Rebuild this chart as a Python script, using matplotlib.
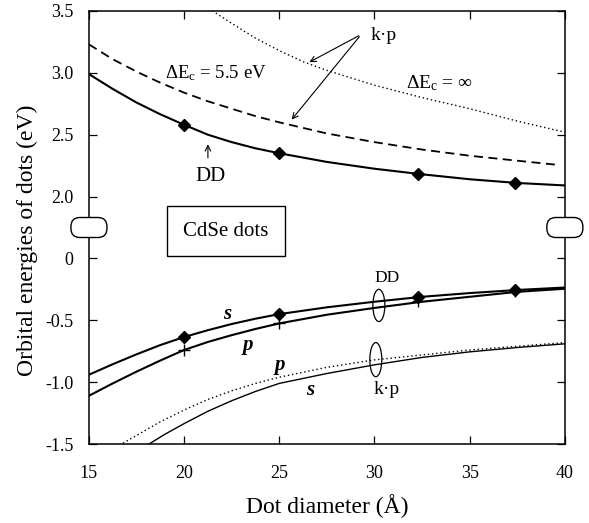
import numpy as np
import matplotlib
matplotlib.use("Agg")
from matplotlib import pyplot as plt
from matplotlib import patches, transforms

plt.rcParams['font.family'] = 'Liberation Serif'
plt.rcParams['mathtext.fontset'] = 'custom'
plt.rcParams['mathtext.rm'] = 'Liberation Serif'
plt.rcParams['mathtext.it'] = 'Liberation Serif:italic'

# conduction band levels (eV)
d_cb = [15, 16.25, 17.5, 18.75, 20, 21.25, 22.5, 23.75, 25, 27.5, 30, 32.5, 35, 37.5, 40]
cb_dd = [2.99, 2.87, 2.76, 2.665, 2.58, 2.50, 2.44, 2.39, 2.35, 2.28, 2.225, 2.18, 2.14, 2.11, 2.09]
d_kp55 = [15, 16.25, 17.5, 18.75, 20, 21.25, 22.5, 23.75, 25, 27.5, 30, 32.5, 35, 37.5, 39.7]
cb_kp55 = [3.23, 3.11, 3.01, 2.92, 2.84, 2.77, 2.71, 2.65, 2.60, 2.51, 2.44, 2.38, 2.33, 2.29, 2.255]
d_kpinf = [21.3, 22.5, 23.75, 25, 26.25, 27.5, 30, 32.5, 35, 37.5, 40]
cb_kpinf = [3.52, 3.40, 3.28, 3.18, 3.09, 3.02, 2.90, 2.80, 2.71, 2.61, 2.52]

# valence band levels (eV)
d_vb = [15, 16.25, 17.5, 18.75, 20, 21.25, 22.5, 23.75, 25, 27.5, 30, 32.5, 35, 37.5, 40]
vb_dd_s = [-0.94, -0.855, -0.775, -0.70, -0.635, -0.58, -0.53, -0.487, -0.45,
           -0.395, -0.35, -0.31, -0.28, -0.255, -0.235]
vb_dd_p = [-1.11, -1.01, -0.915, -0.825, -0.74, -0.675, -0.62, -0.57, -0.525,
           -0.455, -0.40, -0.35, -0.31, -0.27, -0.245]
d_kp_p = [16.6, 17.5, 18.75, 20, 21.25, 22.5, 23.75, 25, 27.5, 30, 32.5, 35, 37.5, 40]
vb_kp_p = [-1.51, -1.43, -1.32, -1.225, -1.14, -1.07, -1.01, -0.96, -0.88, -0.82,
           -0.78, -0.74, -0.71, -0.68]
d_kp_s = [18, 19, 20, 21.25, 22.5, 23.75, 25, 27.5, 30, 32.5, 35, 37.5, 40]
vb_kp_s = [-1.515, -1.42, -1.335, -1.235, -1.15, -1.075, -1.01, -0.93, -0.86,
           -0.80, -0.755, -0.72, -0.69]

# DD calculated points
d_marks = [20, 25, 32.3, 37.4]
cb_marks = [2.58, 2.35, 2.18, 2.11]
vb_s_marks = [-0.635, -0.45, -0.315, -0.257]
vb_p_marks = [-0.74, -0.525, -0.345, -0.265]

ytick_vals = [-1.5, -1.0, -0.5, 0, 2.0, 2.5, 3.0, 3.5]
ytick_labels = ['-1.5', '-1.0', '-0.5', '0', '2.0', '2.5', '3.0', '3.5']
xtick_vals = [15, 20, 25, 30, 35, 40]

# upper block of the broken axis is shifted down by this much
SHIFT = 1.5


def up(v):
    return np.asarray(v) - SHIFT


fig = plt.figure(figsize=(5.89, 5.23), dpi=100)
ax = fig.add_axes([0.151, 0.151, 0.808, 0.828])

ax.plot(d_cb, up(cb_dd), color="black", lw=1.5)
ax.plot(d_marks, up(cb_marks), "D", color="black", ms=6)
ax.plot(d_kp55, up(cb_kp55), color="black", lw=1.3, ls=(0, (5, 3)))
ax.plot(d_kpinf, up(cb_kpinf), color="black", lw=1.0, ls=(0, (1, 2)))

ax.plot(d_vb, vb_dd_s, color="black", lw=1.5)
ax.plot(d_vb, vb_dd_p, color="black", lw=1.5)
ax.plot(d_marks, vb_s_marks, "D", color="black", ms=6)
ax.plot(d_marks, vb_p_marks, "+", color="black", ms=9, mew=1.0)
ax.plot(d_kp_p, vb_kp_p, color="black", lw=1.0, ls=(0, (1, 2)))
ax.plot(d_kp_s, vb_kp_s, color="black", lw=1.0)

ax.set_xlim(15, 40)
ax.set_ylim(-1.5, 2.0)
ax.set_xticks(xtick_vals)
ax.set_yticks([v if v <= 0 else v - SHIFT for v in ytick_vals])
ax.set_yticklabels(ytick_labels)
ax.tick_params(direction="in", top=True, right=True, length=6, width=0.9,
               labelsize=13)
ax.tick_params(axis="x", pad=15)
ax.tick_params(axis="y", pad=11)
for s in ax.spines.values():
    s.set_linewidth(1.1)

ax.set_xlabel("Dot diameter (Å)", fontsize=17, labelpad=9)
ax.set_ylabel("Orbital energies of dots (eV)", fontsize=17)
ax.yaxis.set_label_coords(-0.108, 0.47)

# axis break symbols on both spines
mix = transforms.blended_transform_factory(ax.transAxes, ax.transData)
for xa in [0, 1]:
    off = transforms.ScaledTranslation(xa, 0.25, mix)
    box = patches.FancyBboxPatch((-0.18, -0.1), 0.36, 0.2,
                                 boxstyle="round,pad=0,rounding_size=0.09",
                                 fc="white", ec="black", lw=1.0,
                                 transform=fig.dpi_scale_trans + off,
                                 clip_on=False, zorder=5)
    ax.add_patch(box)

# labels and arrows (positions in plotted coordinates)
ax.text(21.67, 1.495, r"$\Delta\mathrm{E_c}$ = 5.5 eV", fontsize=13.5,
        ha="center", va="center")
ax.text(33.4, 1.42, r"$\Delta\mathrm{E_c}$ = $\infty$", fontsize=14,
        ha="center", va="center")
ax.text(30.5, 1.80, "k·p", fontsize=14, ha="center", va="center")
ax.annotate("", xy=(26.45, 1.576), xytext=(29.3, 1.81),
            arrowprops=dict(arrowstyle="->", lw=0.8, color="black"))
ax.annotate("", xy=(25.56, 1.105), xytext=(29.3, 1.81),
            arrowprops=dict(arrowstyle="->", lw=0.8, color="black"))
ax.annotate("", xy=(21.25, 0.945), xytext=(21.25, 0.79),
            arrowprops=dict(arrowstyle="->", lw=0.8, color="black"))
ax.text(21.4, 0.665, "DD", fontsize=15, ha="center", va="center")

ax.add_patch(patches.Rectangle((19.1, 0.02), 6.2, 0.405, fill=False,
                               ec="black", lw=1.0))
ax.text(22.2, 0.22, "CdSe dots", fontsize=15, ha="center", va="center")

ax.text(22.25, -0.45, "s", fontsize=15, weight="bold", style="italic",
        ha="center", va="center")
ax.text(23.35, -0.70, "p", fontsize=15, weight="bold", style="italic",
        ha="center", va="center")
ax.text(25.03, -0.86, "p", fontsize=15, weight="bold", style="italic",
        ha="center", va="center")
ax.text(26.6, -1.06, "s", fontsize=15, weight="bold", style="italic",
        ha="center", va="center")

ax.add_patch(patches.Ellipse((30.23, -0.38), 0.63, 0.26, fill=False,
                             ec="black", lw=0.9))
ax.add_patch(patches.Ellipse((30.07, -0.818), 0.63, 0.276, fill=False,
                             ec="black", lw=0.9))
ax.text(30.65, -0.16, "DD", fontsize=12.5, ha="center", va="center")
ax.text(30.65, -1.06, "k·p", fontsize=14, ha="center", va="center")

fig.savefig("out.png", dpi=100)
